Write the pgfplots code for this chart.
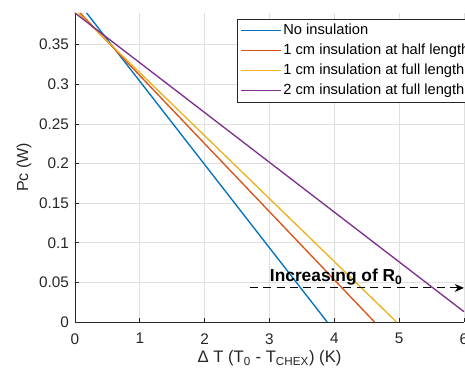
\documentclass[border=0pt]{standalone}
\usepackage{fontspec}
\setmainfont{Liberation Sans}
\usepackage{pgfplots}
\pgfplotsset{compat=1.18}
\usetikzlibrary{arrows.meta}
\definecolor{mblue}{rgb}{0,0.447,0.741}
\definecolor{morange}{rgb}{0.85,0.325,0.098}
\definecolor{myellow}{rgb}{0.929,0.694,0.125}
\definecolor{mpurple}{rgb}{0.494,0.184,0.556}
\definecolor{axgray}{rgb}{0.15,0.15,0.15}
\definecolor{gridgray}{rgb}{0.875,0.875,0.875}
\begin{document}
\begin{tikzpicture}
\begin{axis}[
  scale only axis,
  width=291.75pt, height=231.75pt,
  xmin=0, xmax=6, ymin=0, ymax=0.39,
  clip=false,
  axis lines*=left,
  axis line style={axgray, line width=0.5pt},
  xtick={0,1,2,3,4,5,6},
  ytick={0,0.05,0.1,0.15,0.2,0.25,0.3,0.35},
  yticklabels={0,0.05,0.1,0.15,0.2,0.25,0.3,0.35},
  xticklabels={0,1,2,3,4,5,6},
  tick align=inside,
  major tick length=3pt,
  tick style={axgray, line width=0.5pt},
  grid=major,
  major grid style={gridgray, line width=0.5pt},
  ticklabel style={font=\fontsize{11.5}{13}\selectfont, text=axgray},
  xticklabel style={yshift=-5pt},
  yticklabel style={xshift=-1pt},
  xlabel={Δ T (T\textsubscript{0} - T\textsubscript{CHEX}) (K)},
  ylabel={Pc (W)},
  xlabel style={font=\fontsize{12.5}{15}\selectfont, text=axgray, at={(axis description cs:0.5,0)}, anchor=base, yshift=-30.5pt},
  ylabel style={font=\fontsize{12}{14}\selectfont, text=axgray, at={(axis description cs:-0.131,0.5)}, anchor=center},
  legend cell align=left,
  legend image code/.code={\draw[#1] (0pt,0pt) -- (30pt,0pt);},
  legend style={at={(axis cs:2.5,0.383)}, anchor=north west, draw=axgray, fill=white, line width=0.5pt,
    font=\fontsize{11}{13}\selectfont, inner xsep=2pt, inner ysep=1.5pt,
    nodes={inner xsep=1.5pt, inner ysep=2.2pt, text height=8pt, text depth=2.5pt}},
]
\addplot[mblue, line width=1pt] coordinates {(0.18,0.39) (3.89,0)};
\addlegendentry{No insulation}
\addplot[morange, line width=1pt] coordinates {(0.08,0.39) (4.62,0)};
\addlegendentry{1 cm insulation at half length}
\addplot[myellow, line width=1pt] coordinates {(0.05,0.39) (4.96,0)};
\addlegendentry{1 cm insulation at full length}
\addplot[mpurple, line width=1pt] coordinates {(0,0.39) (6,0.013)};
\addlegendentry{2 cm insulation at full length}
\addplot[black, line width=0.8pt, dash pattern=on 6pt off 4pt, -{Stealth[length=7pt,width=6pt]}, forget plot] coordinates {(2.7,0.043) (6,0.043)};
\node[font=\bfseries\fontsize{13}{15}\selectfont, anchor=base, text=black] at (axis cs:4.03,0.0516) {Increasing of R\textsubscript{0}};
\end{axis}
\pgfresetboundingbox
\useasboundingbox (-56.25pt,-39pt) rectangle (292.5pt,241.5pt);
\end{tikzpicture}
\end{document}
